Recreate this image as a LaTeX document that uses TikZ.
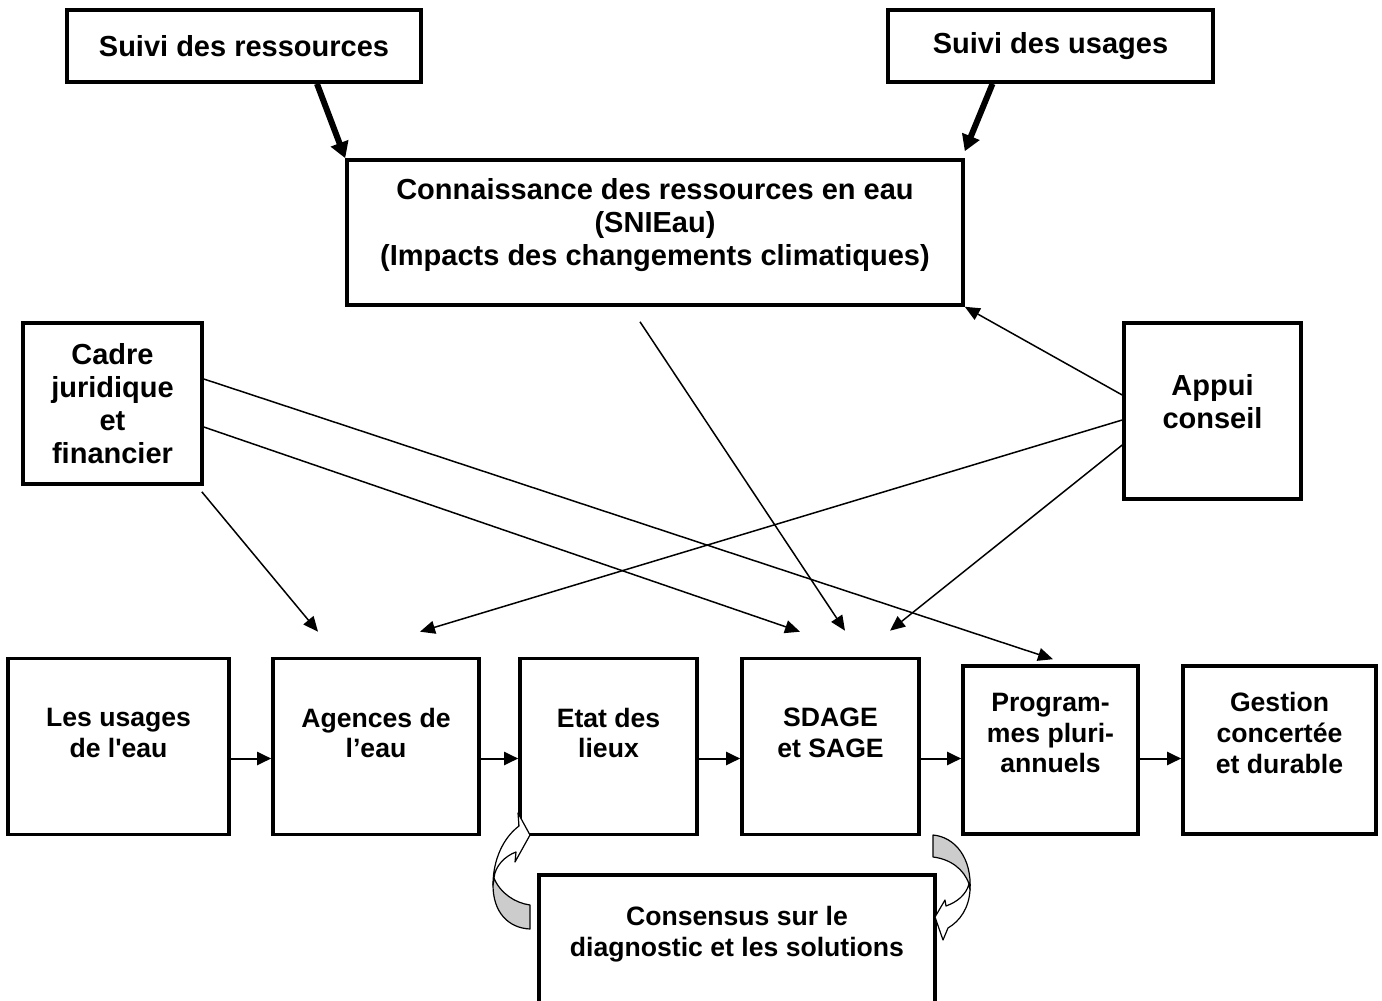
\documentclass[tikz,border=0pt]{standalone}
\usepackage{fontspec}
\setmainfont{Liberation Sans}
\usetikzlibrary{arrows.meta}

\definecolor{shade}{gray}{0.8}

\begin{document}
\begin{tikzpicture}[x=0.5pt,y=-0.5pt,line join=miter,
  boxed/.style={draw,line width=1.8pt,inner sep=0pt,align=center},
  bigtxt/.style={align=center,font=\fontsize{14.5pt}{16.5pt}\selectfont\bfseries},
  smalltxt/.style={align=center,font=\fontsize{13.3pt}{15.3pt}\selectfont\bfseries},
  feed/.style={line width=0.75pt,-{Triangle[length=7.5pt,width=6.5pt]}},
  chain/.style={line width=1pt,-{Triangle[length=7pt,width=6.5pt]}},
  heavy/.style={line width=3pt,-{Triangle[length=8pt,width=9pt]}},
  loopback/.style={draw=black,line width=0.6pt,line join=round}]
\useasboundingbox (0,0) rectangle (1382,1001);
\clip (0,0) rectangle (1382,1001);
% ---- top: suivi + connaissance ----
\node[boxed,bigtxt,minimum width=177pt,minimum height=36pt] (ressources) at (244,46) {Suivi des ressources};
\node[boxed,bigtxt,minimum width=162.5pt,minimum height=36pt] (usages) at (1050.5,46) {Suivi des usages};
\node[boxed,minimum width=308pt,minimum height=72.5pt] (connaissance) at (655,232.5) {};
\node[bigtxt] (connaissance-t) at ([yshift=3.75pt]connaissance.center)
  {Connaissance des ressources en eau\\(SNIEau)\\(Impacts des changements climatiques)};
% ---- side boxes ----
\node[boxed,bigtxt,minimum width=89.5pt,minimum height=80.5pt] (cadre) at (112.5,403.5) {Cadre\\juridique\\et\\financier};
\node[boxed,minimum width=88.5pt,minimum height=88pt] (appui) at (1212.5,411) {};
\node[bigtxt] (appui-t) at ([yshift=4.5pt]appui.center) {Appui\\conseil};
% ---- bottom chain ----
\node[boxed,minimum width=110.5pt,minimum height=88pt] (eauusages) at (118.5,746.5) {};
\node[boxed,minimum width=103pt,minimum height=88pt] (agences) at (376,746.5) {};
\node[boxed,minimum width=88.5pt,minimum height=88pt] (etat) at (608.5,746.5) {};
\node[boxed,minimum width=88.5pt,minimum height=88pt] (sdage) at (830.5,746.5) {};
\node[boxed,minimum width=87.5pt,minimum height=84pt] (programmes) at (1050.5,750) {};
\node[boxed,minimum width=96.5pt,minimum height=84pt] (gestion) at (1279.5,750) {};
\node[smalltxt] (eauusages-t) at ([yshift=6.75pt]eauusages.center) {Les usages\\de l\textquotesingle eau};
\node[smalltxt] (agences-t) at ([yshift=6.75pt]agences.center) {Agences de\\l’eau};
\node[smalltxt] (etat-t) at ([yshift=6.75pt]etat.center) {Etat des\\lieux};
\node[smalltxt] (sdage-t) at ([yshift=6.75pt]sdage.center) {SDAGE\\et SAGE};
\node[smalltxt] (programmes-t) at ([yshift=8.5pt]programmes.center) {Program-\\mes pluri-\\annuels};
\node[smalltxt] (gestion-t) at ([yshift=8.5pt]gestion.center) {Gestion\\concertée\\et durable};
% ---- consensus (runs off the page bottom) ----
\node[boxed,minimum width=198pt,minimum height=65.5pt] (consensus) at (737,940.5) {};
\node[smalltxt] (consensus-t) at ([yshift=3.25pt]consensus.center) {Consensus sur le\\diagnostic et les solutions};
% ---- thick arrows ----
\draw[heavy] ([xshift=36.5pt]ressources.south) -- (connaissance.north west);
\draw[heavy] ([xshift=-29pt]usages.south) -- ([yshift=3.5pt]connaissance.north east);
% ---- thin arrows ----
\draw[feed] ([xshift=-7.5pt,yshift=-7.5pt]connaissance.south) -- ([shift={(7.25pt,13pt)}]sdage.north);
\draw[feed] ([yshift=12.25pt]cadre.east) -- ([shift={(1.25pt,2.5pt)}]programmes.north);
\draw[feed] ([yshift=-11.75pt]cadre.east) -- ([shift={(-15.25pt,12.5pt)}]sdage.north);
\draw[feed] ([shift={(-1pt,-3pt)}]cadre.south east) -- ([shift={(-29pt,12.5pt)}]agences.north);
\draw[feed] ([yshift=8pt]appui.west) -- (connaissance.south east);
\draw[feed] ([yshift=-4.5pt]appui.west) -- ([shift={(22pt,12.5pt)}]agences.north);
\draw[feed] ([yshift=-17pt]appui.west) -- ([shift={(29.75pt,13pt)}]sdage.north);
% ---- chain arrows ----
\draw[chain] ([yshift=-6pt]eauusages.east) -- ([yshift=-6pt]agences.west);
\draw[chain] ([yshift=-6pt]agences.east) -- ([yshift=-6pt]etat.west);
\draw[chain] ([yshift=-6pt]etat.east) -- ([yshift=-6pt]sdage.west);
\draw[chain] ([yshift=-6pt]sdage.east) -- ([yshift=-4.25pt]programmes.west);
\draw[chain] ([yshift=-4.25pt]programmes.east) -- ([yshift=-4.25pt]gestion.west);
% ---- curved block arrows ----
\filldraw[loopback,fill=shade] (530,905) -- (530,929) .. controls (508,928) and (493,912) .. (493,885)
  -- (494,878) .. controls (500,893) and (515,903) .. (530,905) -- cycle;
\filldraw[loopback,fill=white] (493,885) .. controls (493,860) and (503,838) .. (519,826)
  -- (518,813) -- (530,835) -- (515,862) -- (516,852) .. controls (505,856) and (495,866) .. (494,878) -- cycle;
\filldraw[loopback,fill=shade] (933,835) -- (933,857) .. controls (950,859) and (964,869) .. (969,884)
  -- (970,890) .. controls (972,858) and (955,837) .. (933,835) -- cycle;
\filldraw[loopback,fill=white] (970,890) .. controls (969,908) and (960,921) .. (948,928)
  -- (943,940) -- (935,917) -- (945,900) -- (946,906) .. controls (957,902) and (966,895) .. (969,884) -- cycle;
\end{tikzpicture}
\end{document}
